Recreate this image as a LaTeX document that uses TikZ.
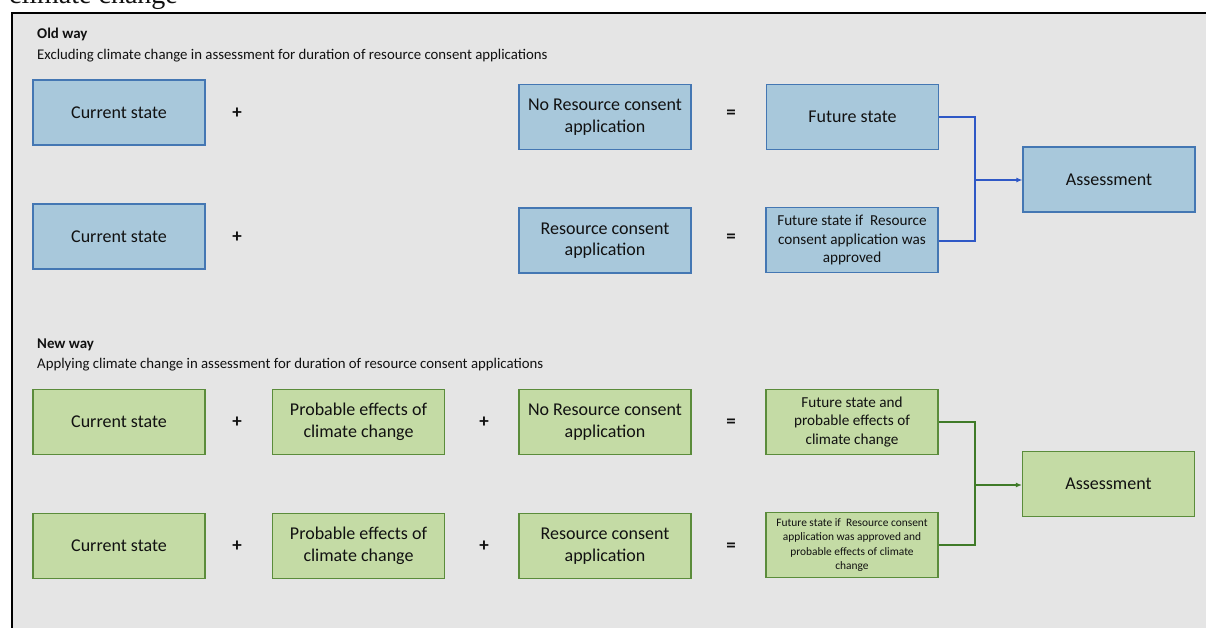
\documentclass[tikz,border=0pt]{standalone}
\usepackage{fontspec}
\setmainfont{Carlito}
\newfontfamily\serifcut{Liberation Serif}
\usetikzlibrary{arrows.meta}
\definecolor{panel}{HTML}{E5E5E5}
\definecolor{bfill}{HTML}{A8C8DB}
\definecolor{bdraw}{HTML}{4477B3}
\definecolor{gfill}{HTML}{C4DBA5}
\definecolor{gdraw}{HTML}{5B8C3B}
\definecolor{bline}{HTML}{2F58C6}
\definecolor{gline}{HTML}{3F7A28}
\definecolor{txt}{HTML}{111111}
\tikzset{
  bbox/.style={draw=bdraw, fill=bfill, line width=1.1pt, minimum width=172pt, minimum height=65pt, inner sep=0pt, align=center, font=\fontsize{18}{21.5}\selectfont, text=txt},
  gbox/.style={draw=gdraw, fill=gfill, line width=1.1pt, minimum width=172pt, minimum height=65pt, inner sep=0pt, align=center, font=\fontsize{18}{21.5}\selectfont, text=txt},
  midtxt/.style={font=\fontsize{15.2}{18.5}\selectfont},
  smalltxt/.style={font=\fontsize{11.4}{14.3}\selectfont},
  op/.style={font=\fontsize{19}{20}\selectfont\bfseries, text=txt, inner sep=0pt},
  hdr/.style={anchor=base west, font=\fontsize{14.9}{17}\selectfont\bfseries, text=txt, inner sep=0pt},
  sub/.style={anchor=base west, font=\fontsize{14.8}{17}\selectfont, text=txt, inner sep=0pt},
  bconn/.style={draw=bline, line width=1.3pt, -{Latex[length=6pt,width=5pt]}},
  gconn/.style={draw=gline, line width=1.3pt, -{Latex[length=6pt,width=5pt]}},
  bjoin/.style={draw=bline, line width=1.3pt},
  gjoin/.style={draw=gline, line width=1.3pt},
}
\begin{document}
\begin{tikzpicture}[x=1pt,y=-1pt]
\useasboundingbox (0,0) rectangle (1206,628);
\clip (0,0) rectangle (1206,628);
\fill[white] (0,0) rectangle (1206,628);
\node[anchor=base west, inner sep=0pt, font=\serifcut\fontsize{28}{30}\selectfont, text=txt] (cut) at (9,4) {climate change};
\fill[panel] (12,13) rectangle (1210,632);
\draw[black, line width=1.6pt] (12,640) -- (12,13) -- (1210,13);

% Old way
\node[hdr] (oldh) at (37,39) {Old way};
\node[sub] (olds) at (37,59.5) {Excluding climate change in assessment for duration of resource consent applications};

\node[bbox] (o1a) at (119,112.5) {Current state};
\node[op] (o1p) at (237,113) {+};
\node[bbox] (o1b) at (605,117) {No Resource consent\\application};
\node[op] (o1e) at (731,114) {=};
\node[bbox] (o1c) at (852.5,117) {Future state};

\node[bbox] (o2a) at (119,236.5) {Current state};
\node[op] (o2p) at (237,237) {+};
\node[bbox] (o2b) at (605,240.5) {Resource consent\\application};
\node[op] (o2e) at (731,238) {=};
\node[bbox, midtxt] (o2c) at (852,240) {Future state if\ \ Resource\\consent application was\\approved};

\node[bbox] (oas) at (1109,179.5) {Assessment};
\coordinate (oj) at (975,180);
\draw[bjoin] (o1c.east |- 0,117) -| (oj);
\draw[bjoin] (o2c.east |- 0,241) -| (oj);
\draw[bconn] (oj) -- (oj -| oas.west);

% New way
\node[hdr] (newh) at (37,348) {New way};
\node[sub] (news) at (37,368.5) {Applying climate change in assessment for duration of resource consent applications};

\node[gbox] (n1a) at (119,422) {Current state};
\node[op] (n1p) at (237,422) {+};
\node[gbox] (n1b) at (358.5,422) {Probable effects of\\climate change};
\node[op] (n1q) at (484,422) {+};
\node[gbox] (n1c) at (605,422) {No Resource consent\\application};
\node[op] (n1e) at (731,423) {=};
\node[gbox, midtxt] (n1d) at (852,422) {Future state and\\probable effects of\\climate change};

\node[gbox] (n2a) at (119,546) {Current state};
\node[op] (n2p) at (237,546) {+};
\node[gbox] (n2b) at (358.5,546) {Probable effects of\\climate change};
\node[op] (n2q) at (484,546) {+};
\node[gbox] (n2c) at (605,546) {Resource consent\\application};
\node[op] (n2e) at (731,547) {=};
\node[gbox, smalltxt] (n2d) at (852,545) {Future state if\ \ Resource consent\\application was approved and\\probable effects of climate\\change};

\node[gbox] (nas) at (1108.5,484) {Assessment};
\coordinate (nj) at (975,485);
\draw[gjoin] (n1d.east |- 0,422) -| (nj);
\draw[gjoin] (n2d.east |- 0,545) -| (nj);
\draw[gconn] (nj) -- (nj -| nas.west);
\end{tikzpicture}
\end{document}
